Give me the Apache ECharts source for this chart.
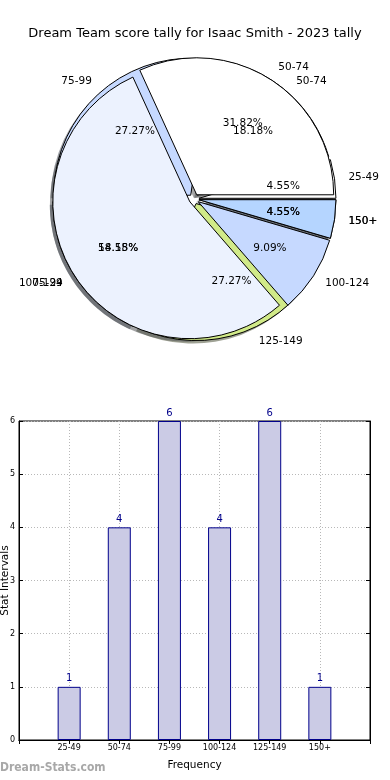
<!DOCTYPE html>
<html><head><meta charset="utf-8">
<script src="https://cdn.jsdelivr.net/npm/echarts@6/dist/echarts.min.js"></script>
<style>html,body{margin:0;padding:0;background:#fff}#c{width:390px;height:780px}</style>
</head><body><div id="c"></div>
<script>
// ---- data ----
const chartTitle = 'Dream Team score tally for Isaac Smith - 2023 tally';
const watermark = 'Dream-Stats.com';
const categories = ['25-49', '50-74', '75-99', '100-124', '125-149', '150+'];
const counts = [1, 4, 6, 4, 6, 1];
const overlayCategories = ['50-74', '75-99', '100-124', '150+'];
const overlayCounts = [7, 12, 2, 1];
const yTicks = [0, 1, 2, 3, 4, 5, 6];
const xAxisName = 'Frequency';
const yAxisName = 'Stat Intervals';
const palette = ['#ffffff', '#ecf2fe', '#c6d9ff', '#b5d5ff', '#d1ea88', '#e6e6e6'];

// ---- layout ----
const R = 137, CX = 194, CY = 199, EXPLODE = 5;
const FONT = 'DejaVu Sans';
const sum = a => a.reduce((x, y) => x + y, 0);
const pctText = (v, s) => (v / s * 100).toFixed(2) + '%';
const noOverlapHide = { hideOverlap: false, moveOverlap: false };
function shadeOf(hex) {
  const n = parseInt(hex.slice(1), 16);
  const r = Math.round(((n >> 16) & 255) * 0.3), g = Math.round(((n >> 8) & 255) * 0.3), b = Math.round((n & 255) * 0.3);
  return 'rgba(' + r + ',' + g + ',' + b + ',0.5)';
}
const base = { type: 'pie', radius: [0, R], startAngle: 0, clockwise: false, avoidLabelOverlap: false,
  silent: true, selectedMode: 'multiple', selectedOffset: EXPLODE, labelLayout: noOverlapHide,
  emphasis: { disabled: true } };

const outLabel = { show: true, position: 'outside', formatter: '{b}', distanceToLabelLine: 0,
  fontFamily: FONT, fontSize: 10.5, color: '#000' };
const outLine = { show: false, length: 14, length2: 0 };

function shadowPie(names, vals) {
  return Object.assign({}, base, {
    center: [CX - 3, CY + 3],
    data: names.map((n, i) => ({ name: n, value: vals[i], selected: true,
      itemStyle: { color: shadeOf(palette[i]), borderWidth: 0 } })),
    label: { show: false }, labelLine: { show: false }
  });
}
function mainPie(names, vals) {
  return Object.assign({}, base, {
    center: [CX, CY],
    data: names.map((n, i) => ({ name: n, value: vals[i], selected: true,
      itemStyle: { color: palette[i] } })),
    itemStyle: { borderColor: '#000', borderWidth: 1 },
    label: outLabel, labelLine: outLine
  });
}
function pctRing(names, vals) {
  const s = sum(vals);
  return Object.assign({}, base, {
    center: [CX, CY], radius: [R * 0.2, R],
    data: names.map((n, i) => ({ name: n, value: vals[i], selected: true })),
    itemStyle: { color: 'rgba(0,0,0,0)', borderWidth: 0 },
    label: { show: true, position: 'inside', formatter: p => pctText(p.value, s),
      fontFamily: FONT, fontSize: 10.5, color: '#000' },
    labelLine: { show: false }
  });
}

const barData = [null].concat(counts).concat([null]);
const xCats = [''].concat(categories).concat(['']);
const dotted = { color: '#b8b8b8', type: [1, 2], width: 1 };

const option = {
  animation: false,
  backgroundColor: '#fff',
  title: [
    { text: chartTitle, left: 'center', top: 22,
      textStyle: { fontFamily: FONT, fontSize: 13, fontWeight: 'normal', color: '#000' } },
    { text: watermark, left: 0, top: 762, padding: 0,
      textStyle: { fontFamily: 'DejaVu Sans Condensed', fontSize: 12, fontWeight: 'bold', color: '#a8a8a8' } }
  ],
  grid: { left: 19, right: 20, top: 421, bottom: 40, show: true, borderColor: '#000', borderWidth: 1,
    backgroundColor: '#fff', outerBoundsMode: 'none', containLabel: false },
  xAxis: [
    { type: 'category', data: xCats, boundaryGap: false, position: 'bottom',
      axisLine: { show: true, lineStyle: { color: '#000' } },
      axisTick: { show: true, inside: true, length: 4, interval: 0, lineStyle: { color: '#000' } },
      axisLabel: { interval: 0, fontFamily: FONT, fontSize: 8, color: '#000', margin: 4 },
      splitLine: { show: true, interval: 0, lineStyle: dotted },
      name: xAxisName, nameLocation: 'middle', nameGap: 20, nameMoveOverlap: false,
      nameTextStyle: { fontFamily: FONT, fontSize: 10.5, color: '#000' } },
    { type: 'category', data: xCats, boundaryGap: false, position: 'top',
      axisLine: { show: true, lineStyle: { color: '#000' } },
      axisTick: { show: true, inside: true, length: 4, interval: 0, lineStyle: { color: '#000' } },
      axisLabel: { show: false }, splitLine: { show: false } }
  ],
  yAxis: [
    { type: 'value', min: yTicks[0], max: yTicks[yTicks.length - 1], interval: 1, position: 'left',
      axisLine: { show: true, lineStyle: { color: '#000' } },
      axisTick: { show: true, inside: true, length: 4, lineStyle: { color: '#000' } },
      axisLabel: { fontFamily: FONT, fontSize: 8, color: '#000', margin: 4 },
      splitLine: { show: true, lineStyle: dotted },
      name: yAxisName, nameLocation: 'middle', nameGap: 8, nameRotate: 90, nameMoveOverlap: false,
      nameTextStyle: { fontFamily: FONT, fontSize: 10.5, color: '#000' } },
    { type: 'value', min: yTicks[0], max: yTicks[yTicks.length - 1], interval: 1, position: 'right',
      axisLine: { show: true, lineStyle: { color: '#000' } },
      axisTick: { show: true, inside: true, length: 4, lineStyle: { color: '#000' } },
      axisLabel: { show: false }, splitLine: { show: false } }
  ],
  series: [
    shadowPie(categories, counts),
    shadowPie(overlayCategories, overlayCounts),
    mainPie(categories, counts),
    mainPie(overlayCategories, overlayCounts),
    pctRing(categories, counts),
    pctRing(overlayCategories, overlayCounts),
    { type: 'bar', xAxisIndex: 0, yAxisIndex: 0, data: barData, barWidth: 23,
      itemStyle: { color: '#cbcbe5', borderColor: '#00008b', borderWidth: 1 },
      label: { show: true, position: 'top', distance: 3, fontFamily: FONT, fontSize: 10, color: '#00008b' },
      emphasis: { disabled: true } }
  ]
};
const chart = echarts.init(document.getElementById('c'), null, { renderer: 'canvas' });
chart.setOption(option);
</script></body></html>
